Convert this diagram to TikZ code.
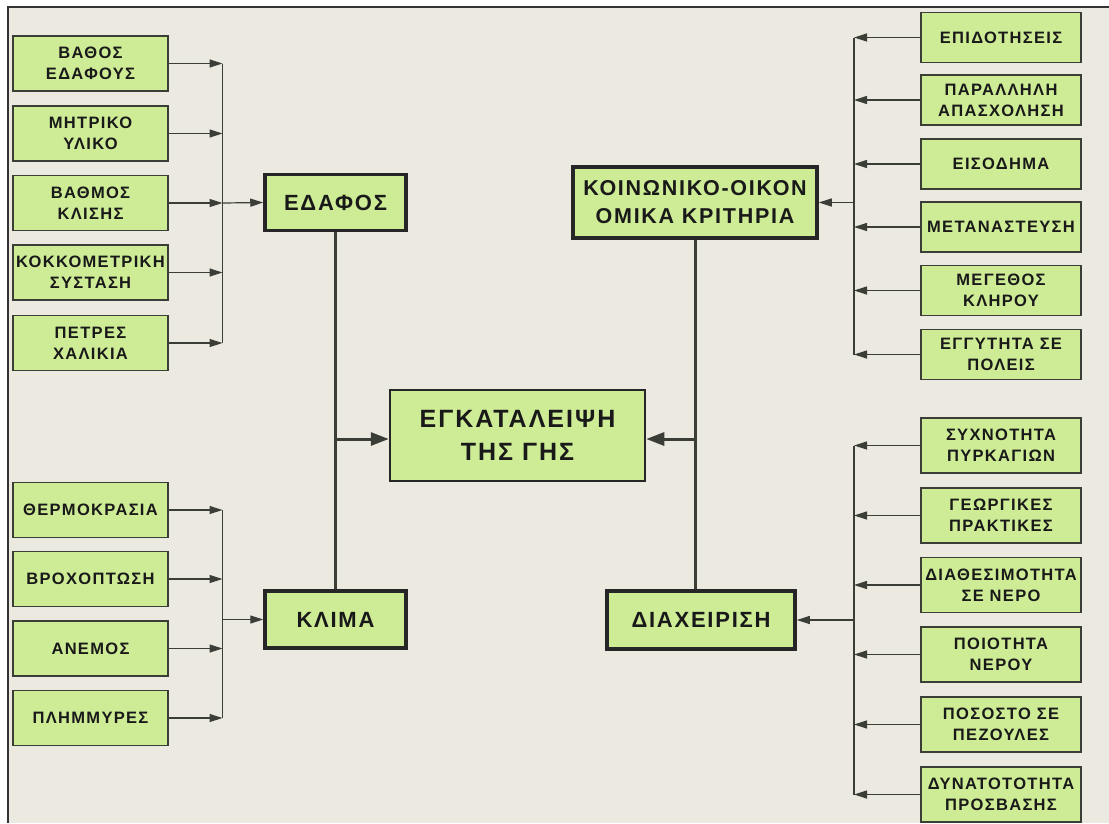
\documentclass[tikz,border=0pt]{standalone}
\usepackage{fontspec}
\setmainfont{Liberation Sans}[LetterSpace=8]
\usetikzlibrary{arrows.meta,positioning,calc}
\definecolor{bg}{RGB}{236,233,225}
\definecolor{boxg}{RGB}{206,236,150}
\definecolor{edge}{RGB}{58,62,54}
\tikzset{
  >={Triangle[length=13pt,width=8pt]},
  every node/.style={font=\bfseries\fontsize{16.5}{21}\selectfont,text=black!90},
  item/.style={draw=edge,line width=1.2pt,fill=boxg,align=center,inner sep=1pt,
               minimum width=155pt,minimum height=55pt},
  itemr/.style={item,minimum width=160pt},
  topic/.style={draw=black!85,line width=3.5pt,fill=boxg,align=center,inner sep=2pt,
                font=\bfseries\fontsize{22}{28}\selectfont},
  link/.style={->,line width=1.2pt,draw=edge},
  bus/.style={line width=1.2pt,draw=edge},
  trunk/.style={line width=3pt,draw=edge},
  feed/.style={trunk,-{Triangle[length=18pt,width=13pt]}},
}

\begin{document}
\begin{tikzpicture}[x=1pt,y=1pt]
  \useasboundingbox (0,0) rectangle (1109,-823);
  % frame
  \fill[white] (0,0) rectangle (1109,-823);
  \fill[bg] (8,-7) rectangle (1109,-823);
  \draw[line width=1.2pt,black!80] (8,-823) -- (8,-7) -- (1109,-7);

  % main topics
  \node[topic,minimum width=141pt,minimum height=56pt] (edafos) at (335.5,-202.5) {ΕΔΑΦΟΣ};
  \node[topic,minimum width=141pt,minimum height=57pt] (klima) at (335.5,-619.5) {ΚΛΙΜΑ};
  \node[topic,font=\bfseries\fontsize{21.5}{28}\selectfont,minimum width=244pt,
        minimum height=71pt] (koin) at (695,-202.5)
    {ΚΟΙΝΩΝΙΚΟ-ΟΙΚΟΝ\\ΟΜΙΚΑ ΚΡΙΤΗΡΙΑ};
  \node[topic,minimum width=188pt,minimum height=58pt] (diax) at (701,-620) {ΔΙΑΧΕΙΡΙΣΗ};
  \node[topic,line width=2.5pt,minimum width=255pt,minimum height=91pt,
        font=\bfseries\fontsize{25}{33}\selectfont] (center) at (517.5,-435.5)
    {ΕΓΚΑΤΑΛΕΙΨΗ\\ΤΗΣ ΓΗΣ};

  % soil
  \foreach \n/\y/\t in {1/63.5/{ΒΑΘΟΣ\\ΕΔΑΦΟΥΣ},2/133.5/{ΜΗΤΡΙΚΟ\\ΥΛΙΚΟ},
      3/203/{ΒΑΘΜΟΣ\\ΚΛΙΣΗΣ},4/272.5/{ΚΟΚΚΟΜΕΤΡΙΚΗ\\ΣΥΣΤΑΣΗ},5/343/{ΠΕΤΡΕΣ\\ΧΑΛΙΚΙΑ}}{
    \node[item] (s\n) at (90.5,-\y) {\t};
  }
  \coordinate (sbus) at (222.5,-203);
  \foreach \n in {1,...,5}
    \draw[link] (s\n.east) -- (s\n.east -| sbus);
  \draw[bus] (sbus |- s1.east) -- (sbus |- s5.east);
  \draw[link] (sbus) -- (edafos.west);

  % climate
  \foreach \n/\y/\t in {1/510/ΘΕΡΜΟΚΡΑΣΙΑ,2/579/ΒΡΟΧΟΠΤΩΣΗ,3/648.5/ΑΝΕΜΟΣ,4/718/ΠΛΗΜΜΥΡΕΣ}{
    \node[item] (c\n) at (90.5,-\y) {\t};
  }
  \coordinate (cbus) at (222.5,-619.5);
  \foreach \n in {1,...,4}
    \draw[link] (c\n.east) -- (c\n.east -| cbus);
  \draw[bus] (cbus |- c1.east) -- (cbus |- c4.east);
  \draw[link] (cbus) -- (klima.west);

  % socio-economic
  \foreach \n/\y/\t in {1/37.5/ΕΠΙΔΟΤΗΣΕΙΣ,2/100/{ΠΑΡΑΛΛΗΛΗ\\ΑΠΑΣΧΟΛΗΣΗ},3/164/ΕΙΣΟΔΗΜΑ,
      4/227/ΜΕΤΑΝΑΣΤΕΥΣΗ,5/290.5/{ΜΕΓΕΘΟΣ\\ΚΛΗΡΟΥ},6/354.5/{ΕΓΓΥΤΗΤΑ ΣΕ\\ΠΟΛΕΙΣ}}{
    \node[itemr,minimum height=50pt] (e\n) at (1001,-\y) {\t};
  }
  \coordinate (ebus) at (854,-202.5);
  \foreach \n in {1,...,6}
    \draw[link] (e\n.west) -- (e\n.west -| ebus);
  \draw[bus] (ebus |- e1.west) -- (ebus |- e6.west);
  \draw[link] (ebus) -- (koin.east);

  % management
  \foreach \n/\y/\t in {1/445.5/{ΣΥΧΝΟΤΗΤΑ\\ΠΥΡΚΑΓΙΩΝ},2/515.5/{ΓΕΩΡΓΙΚΕΣ\\ΠΡΑΚΤΙΚΕΣ},
      3/585/{ΔΙΑΘΕΣΙΜΟΤΗΤΑ\\ΣΕ ΝΕΡΟ},4/654.5/{ΠΟΙΟΤΗΤΑ\\ΝΕΡΟΥ},
      5/724.5/{ΠΟΣΟΣΤΟ ΣΕ\\ΠΕΖΟΥΛΕΣ},6/794.5/{ΔΥΝΑΤΟΤΟΤΗΤΑ\\ΠΡΟΣΒΑΣΗΣ}}{
    \node[itemr] (m\n) at (1001,-\y) {\t};
  }
  \coordinate (mbus) at (854,-620);
  \foreach \n in {1,...,6}
    \draw[link] (m\n.west) -- (m\n.west -| mbus);
  \draw[bus] (mbus |- m1.west) -- (mbus |- m6.west);
  \draw[link] (mbus) -- (diax.east);

  % trunks into the centre
  \draw[trunk] (edafos.south) -- (klima.north);
  \draw[trunk] (koin.south) -- (koin.south |- diax.north);
  \coordinate (jl) at (edafos.south |- 0,-439);
  \coordinate (jr) at (koin.south |- 0,-439);
  \draw[feed] (jl) -- (jl -| center.west);
  \draw[feed] (jr) -- (jr -| center.east);
\end{tikzpicture}
\end{document}
